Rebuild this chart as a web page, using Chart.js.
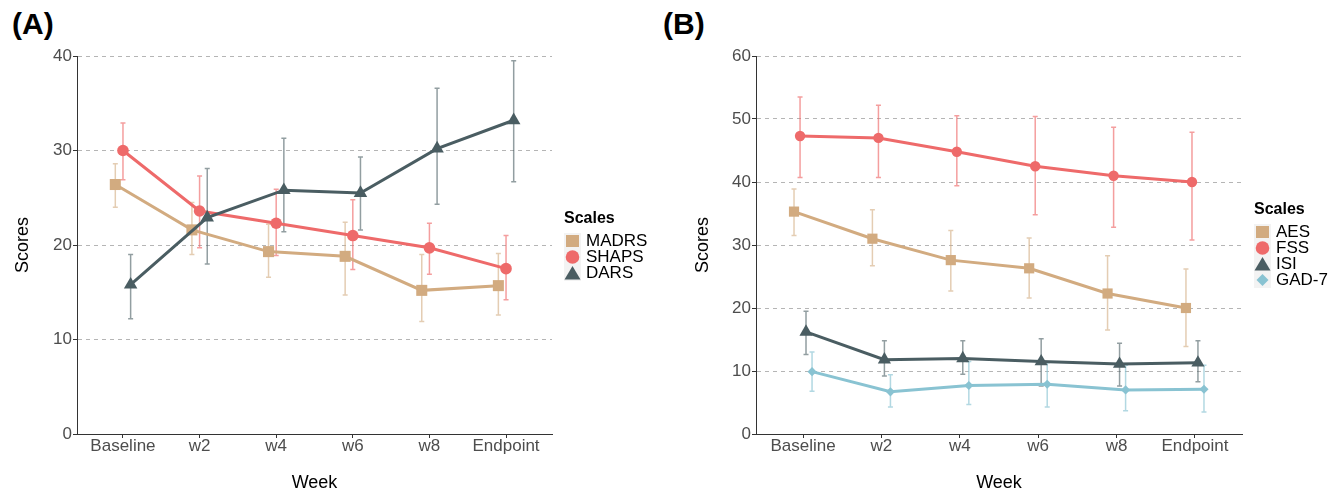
<!DOCTYPE html>
<html>
<head>
<meta charset="utf-8">
<script src="https://cdn.jsdelivr.net/npm/chart.js@4.4.1/dist/chart.umd.min.js"></script>
<style>
  body { margin: 0; width: 1341px; height: 492px; background: #fff; position: relative; overflow: hidden;
         font-family: "Liberation Sans", Arial, sans-serif; }
  canvas { position: absolute; top: 0; }
  .tag { position: absolute; top: 9px; font-weight: bold; font-size: 30px; line-height: 1; color: #000; }
  .legend { position: absolute; font-size: 17px; color: #000; }
  .legend .ttl { font-weight: bold; font-size: 16px; height: 24px; line-height: 18px; }
  .legend .row { display: flex; align-items: center; height: 16px; line-height: 16px; }
  .legend svg { width: 17px; height: 16px; background: #f3f3f3; margin-right: 5px; }
</style>
</head>
<body>
<div class="tag" style="left:12px">(A)</div>
<div class="tag" style="left:663px">(B)</div>
<canvas id="panelA" width="660" height="492" style="left:0"></canvas>
<canvas id="panelB" width="681" height="492" style="left:660px"></canvas>
<div class="legend" id="legA" style="left:564px; top:209px"></div>
<div class="legend" id="legB" style="left:1254px; top:200px"></div>
<script>
const weeks = ['Baseline', 'w2', 'w4', 'w6', 'w8', 'Endpoint'];

// panel A
const madrs     = [26.4, 21.6, 19.3, 18.8, 15.2, 15.7];
const madrsLow  = [24.0, 19.0, 16.6, 14.7, 11.9, 12.6];
const madrsHigh = [28.6, 24.5, 22.2, 22.4, 19.0, 19.1];
const shaps     = [30.0, 23.6, 22.3, 21.0, 19.7, 17.5];
const shapsLow  = [26.9, 19.7, 18.9, 17.4, 16.9, 14.2];
const shapsHigh = [32.9, 27.3, 25.9, 24.8, 22.3, 21.0];
const dars      = [15.8, 22.9, 25.8, 25.5, 30.2, 33.2];
const darsLow   = [12.2, 18.0, 21.4, 21.6, 24.3, 26.7];
const darsHigh  = [19.0, 28.1, 31.3, 29.3, 36.6, 39.5];
const ticksA = [0, 10, 20, 30, 40];

// panel B
const aes      = [35.3, 31.0, 27.6, 26.3, 22.3, 20.0];
const aesLow   = [31.5, 26.7, 22.7, 21.6, 16.5, 13.9];
const aesHigh  = [38.9, 35.6, 32.3, 31.1, 28.3, 26.2];
const fss      = [47.3, 47.0, 44.8, 42.5, 41.0, 40.0];
const fssLow   = [40.7, 40.7, 39.4, 34.8, 32.8, 30.8];
const fssHigh  = [53.5, 52.2, 50.5, 50.4, 48.7, 47.9];
const isi      = [16.2, 11.8, 12.0, 11.5, 11.1, 11.3];
const isiLow   = [12.6, 9.2, 9.5, 7.6, 7.6, 8.3];
const isiHigh  = [19.5, 14.8, 14.8, 15.1, 14.4, 14.8];
const gad      = [9.9, 6.7, 7.7, 7.9, 7.0, 7.1];
const gadLow   = [6.8, 4.3, 4.7, 4.3, 3.7, 3.5];
const gadHigh  = [13.0, 9.4, 11.5, 11.3, 10.9, 10.9];
const ticksB = [0, 10, 20, 30, 40, 50, 60];

const TAN = '#D2AB80', RED = '#EE6A6A', SLATE = '#4A5D62', BLUE = '#89C3D2';
const TAN_E = 'rgba(210,171,128,0.6)', RED_E = 'rgba(238,106,106,0.65)',
      SLATE_E = 'rgba(74,93,98,0.6)', BLUE_E = 'rgba(137,195,210,0.65)';

const errorBars = {
  id: 'errorBars',
  beforeDatasetsDraw(chart) {
    const { ctx, scales: { x, y } } = chart;
    chart.data.datasets.forEach(ds => {
      ctx.save();
      ctx.strokeStyle = ds.errColor;
      ctx.lineWidth = 1.5;
      ds.data.forEach((p, i) => {
        const px = x.getPixelForValue(p.x);
        const lo = y.getPixelForValue(ds.low[i]);
        const hi = y.getPixelForValue(ds.high[i]);
        ctx.beginPath();
        ctx.moveTo(px, lo); ctx.lineTo(px, hi);
        ctx.moveTo(px - 2.5, lo); ctx.lineTo(px + 2.5, lo);
        ctx.moveTo(px - 2.5, hi); ctx.lineTo(px + 2.5, hi);
        ctx.stroke();
      });
      ctx.restore();
    });
  }
};

function series(label, vals, low, high, dodge, color, errColor, shape, radius, order) {
  return {
    label,
    data: vals.map((v, i) => ({ x: i + dodge, y: v })),
    low, high, errColor,
    borderColor: color,
    backgroundColor: color,
    borderWidth: 3,
    pointStyle: shape,
    pointRadius: radius,
    pointBorderWidth: 0,
    pointBackgroundColor: color,
    showLine: true,
    order
  };
}

function makePanel(id, datasets, yTicks, leftW, rightPad, titlePad) {
  new Chart(document.getElementById(id), {
    type: 'scatter',
    data: { datasets },
    plugins: [errorBars],
    options: {
      responsive: false,
      animation: false,
      devicePixelRatio: 1,
      layout: { padding: { top: 56, right: rightPad, bottom: 0, left: 0 } },
      plugins: { legend: { display: false }, tooltip: { enabled: false } },
      scales: {
        x: {
          type: 'linear',
          min: -0.6, max: 5.6,
          afterBuildTicks: axis => { axis.ticks = weeks.map((w, i) => ({ value: i })); },
          afterFit: s => { s.height = 58; },
          ticks: {
            callback: v => weeks[v],
            color: '#4D4D4D',
            font: { family: 'Liberation Sans', size: 17 },
            padding: -2,
            maxRotation: 0, autoSkip: false
          },
          grid: { drawOnChartArea: false, drawTicks: true, tickLength: 4, color: '#333', tickColor: '#333' },
          border: { display: true, color: '#333', width: 1 },
          title: { display: true, text: 'Week', color: '#000',
                   font: { family: 'Liberation Sans', size: 18, lineHeight: 1 }, padding: 0 }
        },
        y: {
          min: yTicks[0], max: yTicks[yTicks.length - 1],
          afterBuildTicks: axis => { axis.ticks = yTicks.map(v => ({ value: v })); },
          afterFit: s => { s.width = leftW; },
          ticks: {
            color: '#4D4D4D',
            font: { family: 'Liberation Sans', size: 17 },
            padding: 1
          },
          grid: {
            color: c => (c.tick && c.tick.value === 0) ? 'rgba(0,0,0,0)' : '#B5B5B5',
            lineWidth: 1,
            tickLength: 4,
            tickColor: '#333'
          },
          border: { display: true, color: '#333', width: 1, dash: [4, 4] },
          title: { display: true, text: 'Scores', color: '#000',
                   font: { family: 'Liberation Sans', size: 18, lineHeight: 1 }, padding: { top: titlePad } }
        }
      }
    }
  });
}

makePanel('panelA', [
  series('MADRS', madrs, madrsLow, madrsHigh, -0.1, TAN, TAN_E, 'rect', 7.8, 3),
  series('SHAPS', shaps, shapsLow, shapsHigh, 0, RED, RED_E, 'circle', 5.8, 2),
  series('DARS', dars, darsLow, darsHigh, 0.1, SLATE, SLATE_E, 'triangle', 7.8, 1)
], ticksA, 77, 108, 14.5);

makePanel('panelB', [
  series('AES', aes, aesLow, aesHigh, -0.115, TAN, TAN_E, 'rect', 7.2, 4),
  series('FSS', fss, fssLow, fssHigh, -0.038, RED, RED_E, 'circle', 5.2, 3),
  series('ISI', isi, isiLow, isiHigh, 0.038, SLATE, SLATE_E, 'triangle', 7.6, 2),
  series('GAD-7', gad, gadLow, gadHigh, 0.115, BLUE, BLUE_E, 'rectRot', 4.6, 1)
], ticksB, 96, 99, 34.5);

// legends
const shapes = {
  rect: c => `<rect x="2" y="2" width="13" height="12" fill="${c}"/>`,
  circle: c => `<circle cx="8.5" cy="8" r="6.8" fill="${c}"/>`,
  triangle: c => `<polygon points="8.5,1 16.5,14.5 0.5,14.5" fill="${c}"/>`,
  rectRot: c => `<polygon points="8.5,2 14.5,8 8.5,14 2.5,8" fill="${c}"/>`
};
function legend(id, items) {
  let html = '<div class="ttl">Scales</div>';
  items.forEach(([name, shape, color]) => {
    html += `<div class="row"><svg viewBox="0 0 17 16">${shapes[shape](color)}</svg><span>${name}</span></div>`;
  });
  document.getElementById(id).innerHTML = html;
}
legend('legA', [['MADRS', 'rect', TAN], ['SHAPS', 'circle', RED], ['DARS', 'triangle', SLATE]]);
legend('legB', [['AES', 'rect', TAN], ['FSS', 'circle', RED], ['ISI', 'triangle', SLATE], ['GAD-7', 'rectRot', BLUE]]);
</script>
</body>
</html>
